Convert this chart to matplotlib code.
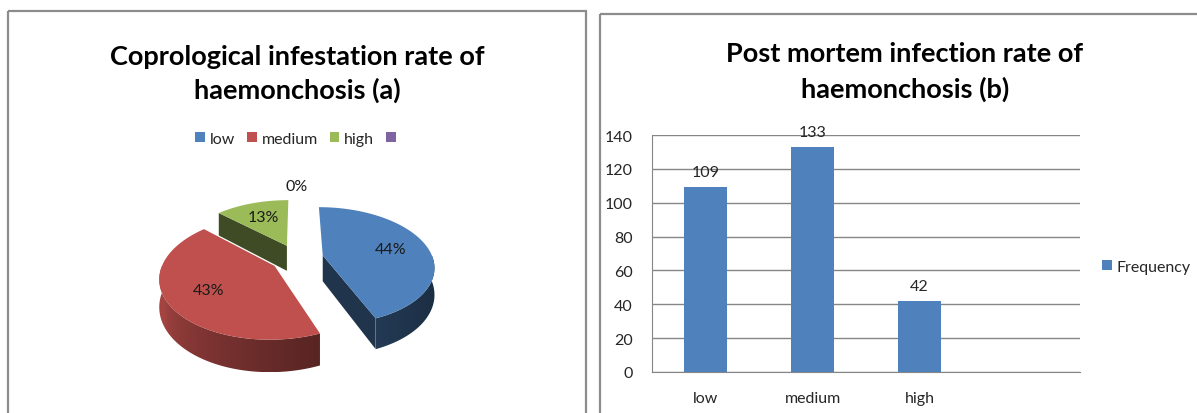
import numpy as np
import matplotlib
matplotlib.use("Agg")
import matplotlib.pyplot as plt
from matplotlib.patches import Polygon, Rectangle, Patch

plt.rcParams['font.family'] = ['Lato', 'DejaVu Sans']

# data
pie_labels = ["low", "medium", "high", ""]
pie_pct = [44, 43, 13, 0]
pie_colors = ["#4F81BD", "#C0504D", "#9BBB59", "#8064A2"]

bar_cats = ["low", "medium", "high"]
bar_vals = [109, 133, 42]
bar_color = "#4F81BD"

W, H_PX = 1197, 414
fig = plt.figure(figsize=(W / 100, H_PX / 100), dpi=100)

# full-figure axes in pixel coords (y down) for frames and the 3d pie
bg = fig.add_axes([0, 0, 1, 1])
bg.set_xlim(0, W)
bg.set_ylim(H_PX, 0)
bg.axis('off')

# chart frames
bg.add_patch(Rectangle((8, 12), 578, 420, fill=False, ec="#8C8C8C", lw=1.6))
bg.add_patch(Rectangle((600, 15), 620, 420, fill=False, ec="#8C8C8C", lw=1.6))

# ---- 3d exploded pie ----
CX, CY = 297, 259
RX, RY = 110, 57.6
PERSP = 0.176
THICK = 26
EXPL = 0.24


def proj(X, Y, z=0.0):
    f = 1.0 / (1.0 + PERSP * Y)
    return CX + RX * X * f, CY - RY * Y * f + THICK * z * f


def shade(c, k):
    r, g, b = matplotlib.colors.to_rgb(c)
    return (r * k, g * k, b * k)


fracs = np.array(pie_pct, dtype=float) / sum(pie_pct)
starts = np.concatenate([[0], np.cumsum(fracs)[:-1]]) * 2 * np.pi
ends = np.cumsum(fracs) * 2 * np.pi
mids = (starts + ends) / 2
offx = EXPL * np.sin(mids)
offy = EXPL * np.cos(mids)

order = np.argsort(-offy)  # back to front
for i in order:
    if fracs[i] <= 0:
        continue
    a0, a1 = starts[i], ends[i]
    ox, oy = offx[i], offy[i]
    col = pie_colors[i]
    # radial faces
    for a, nrm in [(a0, a0 - np.pi / 2), (a1, a1 + np.pi / 2)]:
        if np.cos(nrm) < -0.05:
            ex, ey = ox + np.sin(a), oy + np.cos(a)
            pts = [proj(ox, oy, 0), proj(ex, ey, 0), proj(ex, ey, 1), proj(ox, oy, 1)]
            bg.add_patch(Polygon(pts, closed=True, fc=shade(col, 0.4), ec='none'))
    # outer wall (front half only), shaded with a horizontal gradient
    lo, hi = max(a0, np.pi / 2), min(a1, 3 * np.pi / 2)
    if hi > lo:
        ts = np.linspace(lo, hi, 80)
        upper = [proj(ox + np.sin(t), oy + np.cos(t), 0) for t in ts]
        lower = [proj(ox + np.sin(t), oy + np.cos(t), 1) for t in ts[::-1]]
        wall = Polygon(upper + lower, closed=True, fc='none', ec='none')
        bg.add_patch(wall)
        xs = np.array([p[0] for p in upper + lower])
        ys = np.array([p[1] for p in upper + lower])
        gx = np.linspace(xs.min(), xs.max(), 200)
        # angle on the front half from screen x
        sx = np.clip((gx - CX) / RX - ox, -1, 1)
        tt = np.pi - np.arcsin(sx)
        k = 0.35 + 0.5 * ((tt - np.pi / 2) / np.pi) ** 1.5
        img = np.array([[shade(col, kk) for kk in k]])
        im = bg.imshow(img, extent=(xs.min(), xs.max(), ys.max(), ys.min()),
                       aspect='auto', interpolation='bilinear', zorder=1)
        im.set_clip_path(wall)
    # top face
    ts = np.linspace(a0, a1, 120)
    top = [proj(ox, oy)] + [proj(ox + np.sin(t), oy + np.cos(t)) for t in ts]
    bg.add_patch(Polygon(top, closed=True, fc=col, ec='none', zorder=1.5))

bg.set_xlim(0, W)
bg.set_ylim(H_PX, 0)

# percentage labels
for i in range(len(pie_pct)):
    r = 0.65 if fracs[i] > 0 else 1.35
    lx, ly = proj(offx[i] + r * np.sin(mids[i]), offy[i] + r * np.cos(mids[i]))
    bg.text(lx, ly, f"{pie_pct[i]}%", ha='center', va='center', fontsize=11.5,
            color='#1a1a1a', zorder=3)

# pie title
bg.text(297, 74, "Coprological infestation rate of\nhaemonchosis (a)", ha='center', va='center',
        fontsize=19.5, fontweight='bold', linespacing=1.45)

# pie legend
handles = [Patch(fc=c, ec='none') for c in pie_colors]
fig.legend(handles, pie_labels, loc='center', bbox_to_anchor=(298 / W, 1 - 140 / H_PX),
           ncol=4, frameon=False, fontsize=11.5, handlelength=0.6, handleheight=0.6,
           handletextpad=0.3, columnspacing=0.75, labelcolor='#262626')

# ---- bar chart ----
ax = fig.add_axes([652 / W, 1 - 373 / H_PX, 428 / W, 237 / H_PX])
xpos = np.arange(len(bar_cats))
bars = ax.bar(xpos, bar_vals, width=0.4, color=bar_color, label="Frequency", zorder=3)
ax.set_xlim(-0.5, 3.5)
ax.set_ylim(0, 140)
ax.set_yticks(np.arange(0, 141, 20))
ax.set_xticks(xpos)
ax.set_xticklabels(bar_cats)
ax.tick_params(length=0, labelsize=11.5, colors='#262626')
ax.tick_params(axis='x', pad=14)
ax.tick_params(axis='y', pad=14)
ax.grid(axis='y', color='#868686', lw=1, zorder=0)
for s in ['top', 'right']:
    ax.spines[s].set_visible(False)
for s in ['left', 'bottom']:
    ax.spines[s].set_color('#868686')
for b, v in zip(bars, bar_vals):
    ax.annotate(str(v), (b.get_x() + b.get_width() / 2, v), xytext=(0, 6),
                textcoords='offset points', ha='center', va='bottom', fontsize=11.5, color='#262626')

bg.text(905, 72, "Post mortem infection rate of\nhaemonchosis (b)", ha='center', va='center',
        fontsize=19.5, fontweight='bold', linespacing=1.55)

ax.legend(loc='center left', bbox_to_anchor=(1102 / W, 1 - 268 / H_PX), bbox_transform=fig.transFigure,
          frameon=False, fontsize=11.5, handlelength=0.6, handleheight=0.6, handletextpad=0.3,
          labelcolor='#262626', borderaxespad=0, borderpad=0)

fig.savefig("out.png", dpi=100)
